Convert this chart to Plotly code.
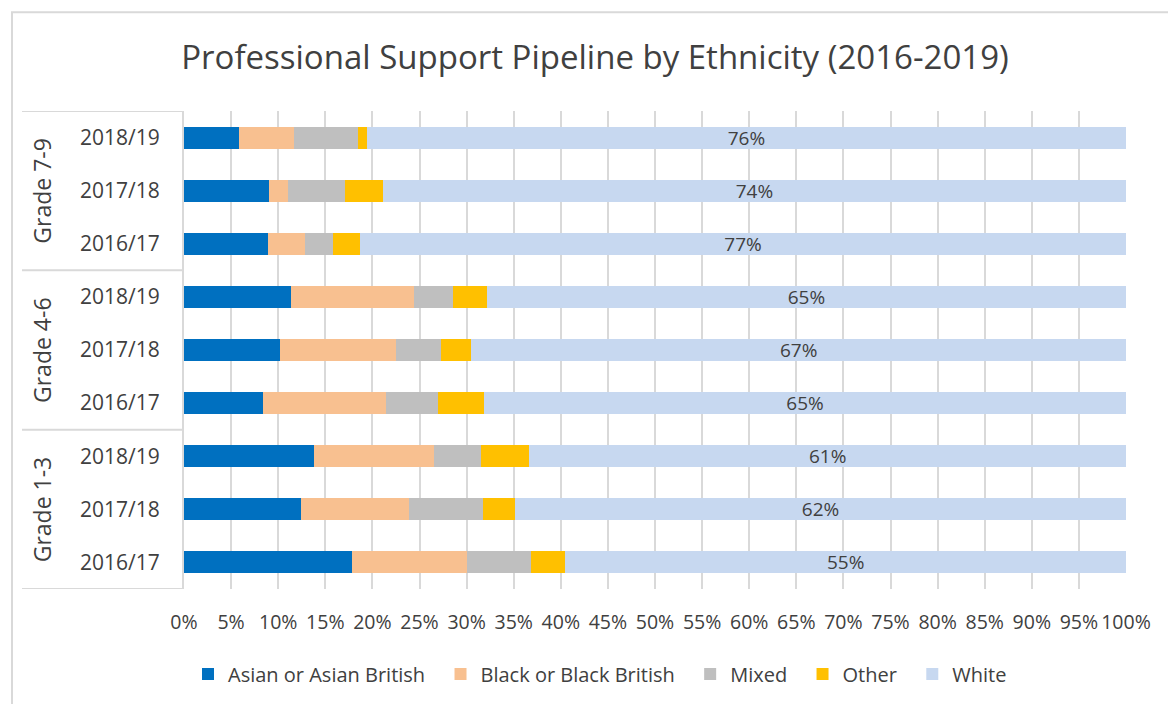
import plotly.graph_objects as go

# Pipeline categories, listed top to bottom
grades = ["Grade 7-9"] * 3 + ["Grade 4-6"] * 3 + ["Grade 1-3"] * 3
years = ["2018/19", "2017/18", "2016/17"] * 3
group_labels = ["Grade 7-9", "Grade 4-6", "Grade 1-3"]

# Share of staff by ethnicity (%), unknown/undeclared excluded
asian = [5.5, 8.5, 8.4, 10.9, 9.8, 8.0, 13.3, 11.9, 16.5]
black = [5.5, 1.9, 3.8, 12.5, 11.9, 12.5, 12.3, 10.9, 11.3]
mixed = [6.4, 5.6, 2.8, 4.0, 4.6, 5.2, 4.8, 7.5, 6.2]
other = [0.9, 3.8, 2.7, 3.4, 3.1, 4.7, 4.9, 3.3, 3.4]
white = [76, 74, 77, 65, 67, 65, 61, 62, 55]

series = [
    ("Asian or Asian British", asian, "#0070C0"),
    ("Black or Black British", black, "#F8C090"),
    ("Mixed", mixed, "#BFBFBF"),
    ("Other", other, "#FFC000"),
    ("White", white, "#C7D8F0"),
]

x_ticks = list(range(0, 101, 5))

FONT = "Open Sans"
TXT = "#404040"
GRID = "#D9D9D9"
PAD = "\u00a0" * 2  # extra room between legend entries

keys = [f"{g} {y}" for g, y in zip(grades, years)]

fig = go.Figure()
for i, (name, vals, color) in enumerate(series):
    show_text = name == "White"
    label = name + (PAD if i < len(series) - 1 else "")
    fig.add_trace(go.Bar(
        name=label,
        y=keys,
        x=vals,
        orientation="h",
        marker=dict(color=color, line=dict(width=0)),
        text=[f"{v}%" for v in vals] if show_text else None,
        textposition="inside" if show_text else "none",
        insidetextanchor="middle",
        constraintext="none",
        textfont=dict(family=FONT, size=19, color=TXT),
        hovertemplate=name + ": %{x:.1f}%<extra></extra>",
    ))

W, H = 1168, 704
ml, mr, mt, mb = 184, 42, 111, 114
plot_w = W - ml - mr
plot_h = H - mt - mb

def px_x(px):
    return (px - ml) / plot_w

def px_y(py):
    return (H - mb - py) / plot_h

shapes = []
# outer chart frame
shapes.append(dict(type="rect", xref="paper", yref="paper",
                   x0=px_x(12), x1=px_x(1180), y0=px_y(720), y1=px_y(12),
                   line=dict(color=GRID, width=2), fillcolor="rgba(0,0,0,0)",
                   layer="below"))
# group dividers on the category axis
n_per_group = 3
for i in range(len(group_labels) + 1):
    yv = i * n_per_group - 0.5
    shapes.append(dict(type="line", xref="paper", yref="y",
                       x0=px_x(22), x1=0, y0=yv, y1=yv,
                       line=dict(color=GRID, width=2)))

annotations = []
for i, g in enumerate(group_labels):
    annotations.append(dict(
        text=g, xref="paper", yref="y", x=px_x(42), y=i * n_per_group + 1,
        textangle=-90, showarrow=False, xanchor="center", yanchor="middle",
        font=dict(family=FONT, size=23, color=TXT)))

fig.update_layout(
    width=W, height=H,
    margin=dict(l=ml, r=mr, t=mt, b=mb),
    paper_bgcolor="white", plot_bgcolor="white",
    barmode="stack", barnorm="percent", bargap=0.585,
    title=dict(text="Professional Support Pipeline by Ethnicity (2016-2019)",
               x=595 / W, xanchor="center", xref="container",
               y=1 - 57 / H, yanchor="middle", yref="container",
               font=dict(family=FONT, size=33, color=TXT)),
    xaxis=dict(range=[0, 100], tickvals=x_ticks,
               ticktext=[f"{t}%" for t in x_ticks],
               showgrid=True, gridcolor=GRID, gridwidth=2,
               zeroline=False, showline=False, ticks="",
               tickangle=0,
               ticklabelstandoff=19,
               tickfont=dict(family=FONT, size=19.5, color=TXT)),
    yaxis=dict(type="category", categoryorder="array", categoryarray=keys,
               tickvals=keys, ticktext=years,
               range=[len(keys) - 0.5, -0.5],
               showgrid=False, zeroline=False, showline=True,
               linecolor=GRID, linewidth=2, ticks="",
               ticklabelstandoff=18,
               tickfont=dict(family=FONT, size=21, color=TXT)),
    legend=dict(orientation="h", x=px_x(600), y=px_y(674),
                xanchor="center", yanchor="middle", traceorder="normal",
                font=dict(family=FONT, size=20, color=TXT)),
    shapes=shapes,
    annotations=annotations,
)

fig.write_html("out.html")
